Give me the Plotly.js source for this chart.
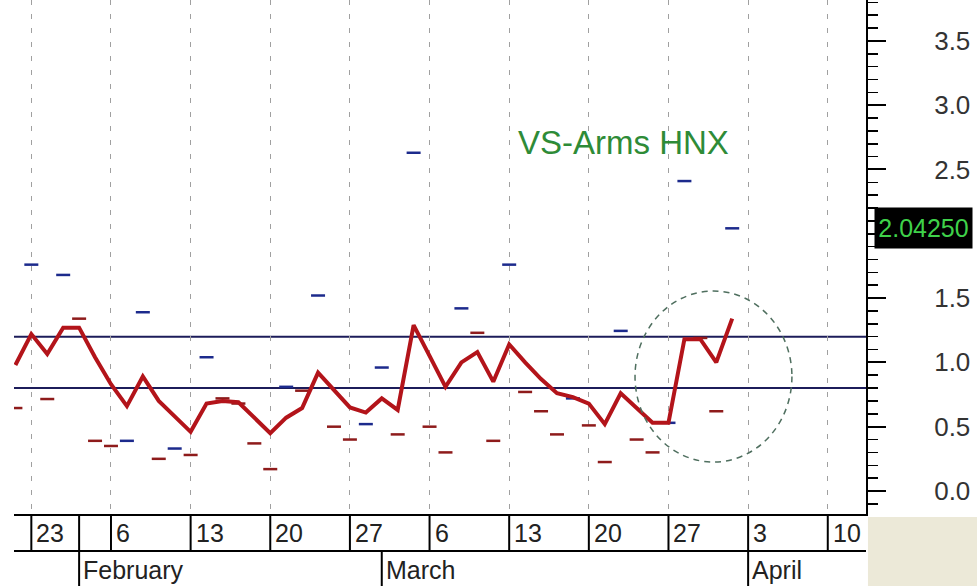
<!DOCTYPE html>
<html><head><meta charset="utf-8">
<script src="https://cdn.plot.ly/plotly-3.0.1.min.js"></script>
<style>html,body{margin:0;padding:0;background:#fff;overflow:hidden}#chart{width:977px;height:586px;}</style>
</head><body><div id="chart"></div>
<script>
// trading days shown (index = position on the axis)
const tradingDays = ["Jan 27","Jan 30","Jan 31","Feb 1","Feb 2","Feb 3","Feb 6","Feb 7","Feb 8","Feb 9","Feb 10",
  "Feb 13","Feb 14","Feb 15","Feb 16","Feb 17","Feb 20","Feb 21","Feb 22","Feb 23","Feb 24",
  "Feb 27","Feb 28","Mar 1","Mar 2","Mar 3","Mar 6","Mar 7","Mar 8","Mar 9","Mar 10",
  "Mar 13","Mar 14","Mar 15","Mar 16","Mar 17","Mar 20","Mar 21","Mar 22","Mar 23","Mar 24",
  "Mar 27","Mar 28","Mar 29","Mar 30","Mar 31"];
// daily Arms values (dashes)
const armsDaily = [0.645,1.76,0.715,1.68,1.34,0.39,0.35,0.39,1.39,0.25,0.33,
  0.28,1.04,0.72,0.68,0.37,0.17,0.81,0.78,1.52,0.50,
  0.40,0.52,0.96,0.44,2.63,0.50,0.30,1.42,1.23,0.39,
  1.76,0.77,0.62,0.44,0.72,0.51,0.225,1.245,0.40,0.30,
  0.53,2.41,1.19,0.62,2.0425];
// smoothed Arms line (red)
const armsAverage = [0.98,1.22,1.065,1.27,1.27,1.04,0.83,0.66,0.89,0.70,0.58,
  0.46,0.68,0.70,0.69,0.57,0.45,0.57,0.645,0.92,0.79,
  0.65,0.61,0.72,0.63,1.29,1.05,0.81,1.00,1.08,0.85,
  1.14,1.00,0.87,0.76,0.73,0.68,0.52,0.76,0.65,0.53,
  0.53,1.18,1.18,1.00,1.34];
const bandLevels = [0.8, 1.2];
const weekTickIdx = [1,6,11,16,21,26,31,36,41,46,51];
const weekTickText = ["23","6","13","20","27","6","13","20","27","3","10"];
const dayRowSeparatorIdx = [1,4,6,11,16,21,26,31,36,41,46,51];
const monthTickIdx = [4,23,46];
const monthTickText = ["February","March","April"];
const yTickVals = [0,0.5,1.0,1.5,2.0,2.5,3.0,3.5];
const lastValueText = "2.04250";
const lastValue = 2.0425;

const xIdx = armsDaily.map((_, i) => i);
const dashColors = armsDaily.map((v, i) => (i > 0 && v > armsDaily[i-1]) ? "#1c2a8c" : "#8e1b1b");

const FONT = "Liberation Sans, Arial, sans-serif";

const traces = [
  {type:"scatter", mode:"markers", x:xIdx, y:armsDaily, text:tradingDays,
   marker:{symbol:"line-ew", size:10, color:dashColors, line:{color:dashColors, width:2.5}},
   hoverinfo:"text+y", showlegend:false},
  {type:"scatter", mode:"lines", x:xIdx, y:armsAverage, text:tradingDays,
   line:{color:"#b3141a", width:4}, hoverinfo:"text+y", showlegend:false}
];

const shapes = [];
bandLevels.forEach(l => shapes.push({type:"line", xref:"paper", x0:0, x1:1, yref:"y", y0:l, y1:l,
  line:{color:"#1c1c5a", width:2}, layer:"between"}));
// bottom band
shapes.push({type:"line", xref:"paper", x0:0, x1:1, yref:"paper", y0:-0.072, y1:-0.072, line:{color:"#000", width:2}});
dayRowSeparatorIdx.forEach(i => shapes.push({type:"line", xref:"x", x0:i, x1:i, yref:"paper", y0:0, y1:-0.072, line:{color:"#000", width:2}}));
monthTickIdx.forEach(i => shapes.push({type:"line", xref:"x", x0:i, x1:i, yref:"paper", y0:-0.072, y1:-0.15, line:{color:"#000", width:2}}));
shapes.push({type:"rect", xref:"paper", x0:1.0023, x1:1.2, yref:"paper", y0:-0.006, y1:-0.2, fillcolor:"#ece9d8", line:{width:0}});
// dashed circle
shapes.push({type:"circle", xref:"x", yref:"y", x0:38.9, x1:48.75, y0:0.225, y1:1.555,
  line:{color:"#4f6f5f", width:1.5, dash:"6px,5px"}});

const annotations = [];
weekTickIdx.forEach((i, k) => annotations.push({xref:"x", x:i, xanchor:"left", xshift:3, yref:"paper", y:-0.036, yanchor:"middle",
  text:weekTickText[k], showarrow:false, font:{family:FONT, size:25, color:"#222"}}));
monthTickIdx.forEach((i, k) => annotations.push({xref:"x", x:i, xanchor:"left", xshift:2, yref:"paper", y:-0.108, yanchor:"middle",
  text:monthTickText[k], showarrow:false, font:{family:FONT, size:25, color:"#222"}}));
annotations.push({xref:"paper", x:0.715, xanchor:"center", yref:"paper", y:0.722, yanchor:"middle", text:"VS-Arms HNX", showarrow:false,
  font:{family:FONT, size:33, color:"#2e8b37"}});
annotations.push({xref:"paper", x:1.0675, xanchor:"center", yref:"y", y:lastValue, yanchor:"middle", text:lastValueText, showarrow:false,
  bgcolor:"#000", width:95, height:38, font:{family:FONT, size:25, color:"#3fd24a"}});

const layout = {
  width:977, height:586,
  margin:{l:14, r:111, t:0, b:72, pad:0},
  paper_bgcolor:"#fff", plot_bgcolor:"#fff",
  showlegend:false,
  xaxis:{range:[-0.088, 53.4], tickvals:weekTickIdx, showticklabels:false, ticks:"",
    showgrid:true, gridcolor:"#a0a0a0", gridwidth:1, griddash:"5px,9px",
    zeroline:false, showline:true, linecolor:"#000", linewidth:2, fixedrange:true},
  yaxis:{range:[-0.179, 3.818], side:"right", tickvals:yTickVals, tickformat:".1f",
    ticks:"outside", ticklen:18, tickwidth:2, tickcolor:"#000",
    minor:{dtick:0.1, tick0:0, ticks:"outside", ticklen:10, tickwidth:1.5, tickcolor:"#000", showgrid:false},
    showline:true, linecolor:"#000", linewidth:2, showgrid:false, zeroline:false,
    ticklabelstandoff:43, tickfont:{family:FONT, size:26, color:"#333"}, fixedrange:true},
  shapes:shapes, annotations:annotations
};
Plotly.newPlot("chart", traces, layout, {displayModeBar:false, staticPlot:true});
</script></body></html>
